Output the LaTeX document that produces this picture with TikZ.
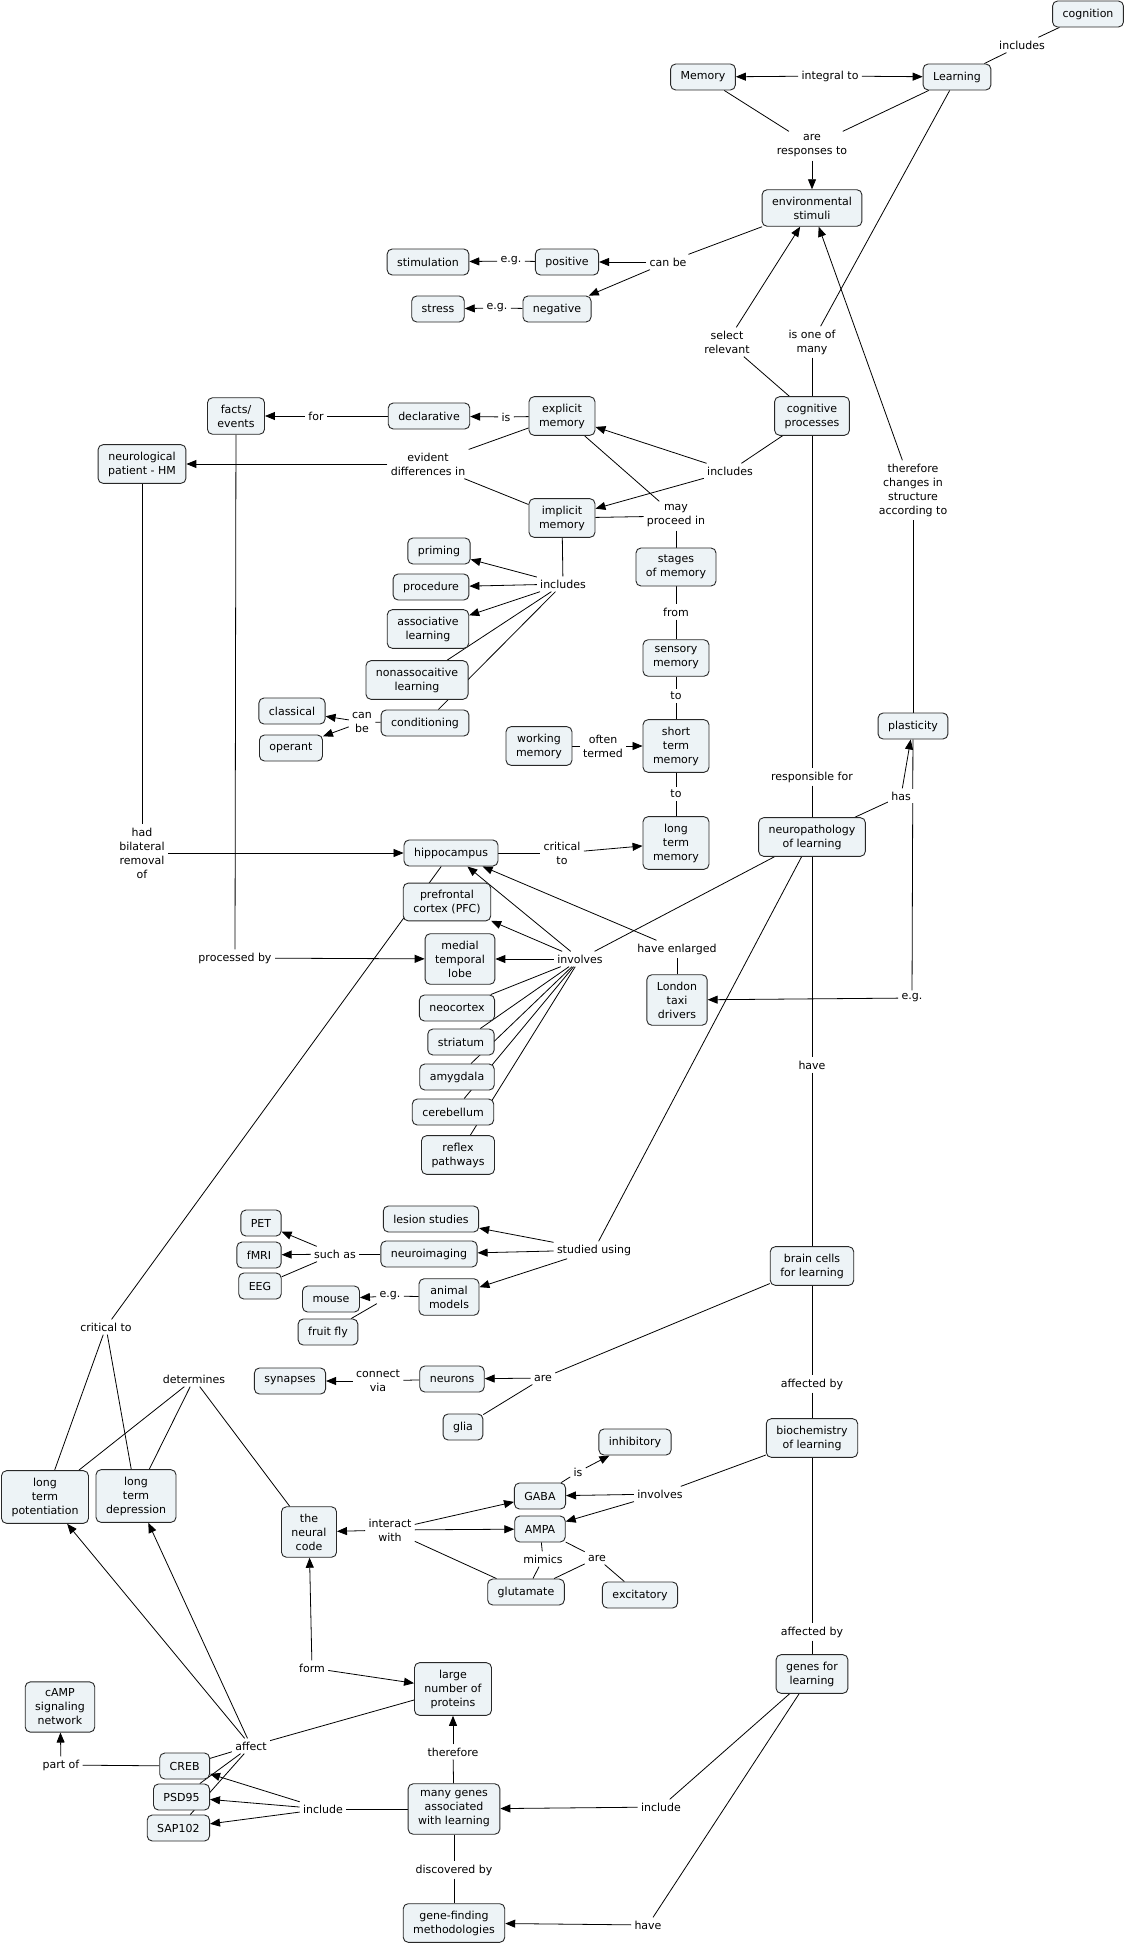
\documentclass[tikz,border=0pt]{standalone}
\usepackage{fontspec}
\setmainfont{DejaVu Sans}
\usepackage{tikz}
\usetikzlibrary{arrows.meta,backgrounds}
\usepackage{xcolor}
\definecolor{conceptfill}{RGB}{237,243,246}
\definecolor{conceptline}{RGB}{40,40,40}

\begin{document}
\begin{tikzpicture}[
				x=1pt, y=-1pt,
				concept/.style = {draw=conceptline, fill=conceptfill, line width=0.9pt, rounded corners=5pt,
					align=center, inner xsep=10pt, inner ysep=7pt, minimum height=26pt,
					font=\fontsize{11}{14}\selectfont},
				link/.style = {fill=white, align=center, inner sep=3pt, font=\fontsize{11}{14}\selectfont},
				arrow/.style={-{Triangle[length=10pt, width=8pt]}},
				every path/.style={line width=0.8pt}
				]
				
				\useasboundingbox (0,0) rectangle (1126,1948);
				
				\node[concept] (cog) at (1088,14) {cognition};
				\node[link] (incl1) at (1022,45) {includes};
				\node[concept] (mem) at (703,77) {Memory};
				\node[concept] (learn) at (957,77) {Learning};
				\node[link] (integral) at (830,76) {integral to};
				\node[link] (resp) at (812,146) {are\\responses to};
				\node[concept] (env) at (812,208) {environmental\\stimuli};
				\node[link] (canbe) at (668,262) {can be};
				\node[concept] (pos) at (567,262) {positive};
				\node[link] (eg1) at (511,261) {e.g.};
				\node[concept] (stim) at (428,262) {stimulation};
				\node[concept] (neg) at (557,309) {negative};
				\node[link] (eg2) at (497,308) {e.g.};
				\node[concept] (stress) at (438,309) {stress};
				\node[link] (select) at (727,342) {select\\relevant};
				\node[link] (oneof) at (812,342) {is one of\\many};
				\node[concept] (cogproc) at (812,416) {cognitive\\processes};
				\node[link] (changes) at (913,490) {therefore\\changes in\\structure\\according to};
				\node[concept] (expl) at (562,416) {explicit\\memory};
				\node[link] (isdecl) at (506,417) {is};
				\node[concept] (decl) at (429,416) {declarative};
				\node[link] (forlink) at (316,416) {for};
				\node[concept] (facts) at (236,416) {facts/\\events};
				\node[concept] (hm) at (142,464) {neurological\\patient - HM};
				\node[link] (evident) at (428,464) {evident\\differences in};
				\node[link] (incl2) at (730,471) {includes};
				\node[concept] (impl) at (562,518) {implicit\\memory};
				\node[link] (proceed) at (676,516) {may\\proceed in};
				\node[concept] (priming) at (439,551) {priming};
				\node[concept] (proced) at (431,587) {procedure};
				\node[link] (incl3) at (563,584) {includes};
				\node[concept] (stages) at (676,567) {stages\\of memory};
				\node[concept] (assoc) at (428,629) {associative\\learning};
				\node[link] (fromlink) at (676,612) {from};
				\node[concept] (sensory) at (676,658) {sensory\\memory};
				\node[concept] (nonassoc) at (417,680) {nonassocaitive\\learning};
				\node[concept] (cond) at (425,723) {conditioning};
				\node[concept] (classical) at (292,711) {classical};
				\node[link] (canbe2) at (362,722) {can\\be};
				\node[concept] (operant) at (291,748) {operant};
				\node[link] (to1) at (676,696) {to};
				\node[concept] (working) at (539,746) {working\\memory};
				\node[link] (termed) at (603,746) {often\\termed};
				\node[concept] (short) at (676,746) {short\\term\\memory};
				\node[concept] (plast) at (913,726) {plasticity};
				\node[link] (to2) at (676,794) {to};
				\node[link] (respfor) at (812,777) {responsible for};
				\node[link] (has) at (901,796) {has};
				\node[concept] (neuro) at (812,837) {neuropathology\\of learning};
				\node[concept] (longmem) at (676,843) {long\\term\\memory};
				\node[link] (crit1) at (562,853) {critical\\to};
				\node[concept] (hippo) at (451,853) {hippocampus};
				\node[link] (removal) at (142,853) {had\\bilateral\\removal\\of};
				\node[concept] (pfc) at (447,902) {prefrontal\\cortex (PFC)};
				\node[concept] (mtl) at (460,959) {medial\\temporal\\lobe};
				\node[link] (involves1) at (580,959) {involves};
				\node[link] (enlarged) at (677,949) {have enlarged};
				\node[concept] (london) at (677,1000) {London\\taxi\\drivers};
				\node[link] (eg3) at (912,998) {e.g.};
				\node[link] (procby) at (235,958) {processed by};
				\node[concept] (neocortex) at (457,1008) {neocortex};
				\node[link] (have1) at (812,1065) {have};
				\node[concept] (striatum) at (461,1042) {striatum};
				\node[concept] (amygdala) at (457,1077) {amygdala};
				\node[concept] (cerebellum) at (453,1112) {cerebellum};
				\node[concept] (reflex) at (458,1155) {reflex\\pathways};
				\node[concept] (lesion) at (431,1219) {lesion studies};
				\node[concept] (pet) at (261,1223) {PET};
				\node[concept] (imaging) at (429,1254) {neuroimaging};
				\node[concept] (fmri) at (259,1255) {fMRI};
				\node[link] (suchas) at (335,1254) {such as};
				\node[link] (studied) at (594,1250) {studied using};
				\node[concept] (cells) at (812,1266) {brain cells\\for learning};
				\node[concept] (eeg) at (260,1286) {EEG};
				\node[concept] (animal) at (449,1297) {animal\\models};
				\node[concept] (mouse) at (331,1299) {mouse};
				\node[link] (eg4) at (390,1296) {e.g.};
				\node[concept] (fly) at (328,1332) {fruit fly};
				\node[link] (crit2) at (106,1327) {critical to};
				\node[link] (determines) at (194,1379) {determines};
				\node[concept] (synapses) at (290,1381) {synapses};
				\node[link] (connect) at (378,1381) {connect\\via};
				\node[concept] (neurons) at (452,1379) {neurons};
				\node[link] (are1) at (543,1378) {are};
				\node[concept] (glia) at (463,1427) {glia};
				\node[link] (affby1) at (812,1384) {affected by};
				\node[concept] (inhib) at (635,1442) {inhibitory};
				\node[concept] (biochem) at (812,1438) {biochemistry\\of learning};
				\node[link] (is2) at (578,1472) {is};
				\node[concept] (gaba) at (540,1496) {GABA};
				\node[link] (involves2) at (660,1494) {involves};
				\node[concept] (ltp) at (45,1497) {long\\term\\potentiation};
				\node[concept] (ltd) at (136,1496) {long\\term\\depression};
				\node[concept] (code) at (309,1532) {the\\neural\\code};
				\node[link] (interact) at (390,1530) {interact\\with};
				\node[concept] (ampa) at (540,1529) {AMPA};
				\node[link] (mimics) at (543,1559) {mimics};
				\node[link] (are2) at (597,1558) {are};
				\node[concept] (glutamate) at (526,1592) {glutamate};
				\node[concept] (excit) at (640,1595) {excitatory};
				\node[link] (affby2) at (812,1632) {affected by};
				\node[concept] (genes) at (812,1674) {genes for\\learning};
				\node[link] (form) at (312,1668) {form};
				\node[concept] (proteins) at (453,1689) {large\\number of\\proteins};
				\node[concept] (camp) at (60,1707) {cAMP\\signaling\\network};
				\node[link] (affect) at (251,1746) {affect};
				\node[link] (therefore) at (453,1752) {therefore};
				\node[link] (partof) at (61,1765) {part of};
				\node[concept, anchor=east] (creb) at (210,1766) {CREB};
				\node[concept, anchor=east] (psd) at (210,1797) {PSD95};
				\node[link] (include1) at (323,1809) {include};
				\node[concept] (many) at (454,1809) {many genes\\associated\\with learning};
				\node[link] (include2) at (661,1807) {include};
				\node[concept, anchor=east] (sap) at (210,1828) {SAP102};
				\node[link] (discovered) at (454,1870) {discovered by};
				\node[concept] (finding) at (454,1923) {gene-finding\\methodologies};
				\node[link] (have2) at (648,1925) {have};
				
				\begin{pgfonlayer}{background}
				\fill[white] (0,0) rectangle (1126,1948);
				
				\draw (cog) -- (incl1);
				\draw (incl1) -- (learn);
				\draw[arrow] (integral) -- (mem);
				\draw[arrow] (integral) -- (learn);
				\draw (mem) -- (resp);
				\draw (learn) -- (resp);
				\draw[arrow] (resp) -- (env);
				\draw (env) -- (canbe);
				\draw[arrow] (canbe) -- (pos);
				\draw[arrow] (canbe) -- (neg);
				\draw (pos) -- (eg1);
				\draw[arrow] (eg1) -- (stim);
				\draw (neg) -- (eg2);
				\draw[arrow] (eg2) -- (stress);
				\draw (cogproc) -- (select);
				\draw[arrow] (select) -- (env);
				\draw (learn) -- (oneof);
				\draw (oneof) -- (cogproc);
				\draw (plast) -- (changes);
				\draw[arrow] (changes) -- (env);
				
				\draw (cogproc) -- (incl2);
				\draw[arrow] (incl2) -- (expl);
				\draw[arrow] (incl2) -- (impl);
				\draw (expl) -- (isdecl);
				\draw[arrow] (isdecl) -- (decl);
				\draw (decl) -- (forlink);
				\draw[arrow] (forlink) -- (facts);
				\draw (expl) -- (evident);
				\draw (impl) -- (evident);
				\draw[arrow] (evident) -- (hm);
				\draw (expl) -- (proceed);
				\draw (impl) -- (proceed);
				\draw (proceed) -- (stages);
				\draw (stages) -- (fromlink);
				\draw (fromlink) -- (sensory);
				\draw (sensory) -- (to1);
				\draw (to1) -- (short);
				\draw (short) -- (to2);
				\draw (to2) -- (longmem);
				\draw (working) -- (termed);
				\draw[arrow] (termed) -- (short);
				\draw (impl) -- (incl3);
				\draw[arrow] (incl3) -- (priming);
				\draw[arrow] (incl3) -- (proced);
				\draw[arrow] (incl3) -- (assoc);
				\draw (incl3) -- (nonassoc);
				\draw (incl3) -- (cond);
				\draw (cond) -- (canbe2);
				\draw[arrow] (canbe2) -- (classical);
				\draw[arrow] (canbe2) -- (operant);
				
				\draw (cogproc) -- (respfor);
				\draw (respfor) -- (neuro);
				\draw (neuro) -- (has);
				\draw[arrow] (has) -- (plast);
				\draw (plast) -- (eg3);
				\draw[arrow] (eg3) -- (london);
				\draw (hippo) -- (crit1);
				\draw[arrow] (crit1) -- (longmem);
				\draw (hm) -- (removal);
				\draw[arrow] (removal) -- (hippo);
				\draw (facts) -- (procby);
				\draw[arrow] (procby) -- (mtl);
				\draw (neuro) -- (involves1);
				\draw[arrow] (involves1) -- (hippo);
				\draw[arrow] (involves1) -- (pfc);
				\draw[arrow] (involves1) -- (mtl);
				\draw (involves1) -- (neocortex);
				\draw (involves1) -- (striatum);
				\draw (involves1) -- (amygdala);
				\draw (involves1) -- (cerebellum);
				\draw (involves1) -- (reflex);
				\draw (london) -- (enlarged);
				\draw[arrow] (enlarged) -- (hippo);
				
				\draw (neuro) -- (have1);
				\draw (have1) -- (cells);
				\draw (neuro) -- (studied);
				\draw[arrow] (studied) -- (lesion);
				\draw[arrow] (studied) -- (imaging);
				\draw[arrow] (studied) -- (animal);
				\draw (imaging) -- (suchas);
				\draw[arrow] (suchas) -- (pet);
				\draw[arrow] (suchas) -- (fmri);
				\draw (suchas) -- (eeg);
				\draw (animal) -- (eg4);
				\draw[arrow] (eg4) -- (mouse);
				\draw (eg4) -- (fly);
				\draw (hippo) -- (crit2);
				\draw (crit2) -- (ltp);
				\draw (crit2) -- (ltd);
				\draw (determines) -- (ltp);
				\draw (determines) -- (ltd);
				\draw (determines) -- (code);
				\draw (cells) -- (are1);
				\draw[arrow] (are1) -- (neurons);
				\draw (are1) -- (glia);
				\draw (neurons) -- (connect);
				\draw[arrow] (connect) -- (synapses);
				
				\draw (cells) -- (affby1);
				\draw (affby1) -- (biochem);
				\draw (biochem) -- (involves2);
				\draw[arrow] (involves2) -- (gaba);
				\draw[arrow] (involves2) -- (ampa);
				\draw (gaba) -- (is2);
				\draw[arrow] (is2) -- (inhib);
				\draw (ampa) -- (mimics);
				\draw (mimics) -- (glutamate);
				\draw (ampa) -- (are2);
				\draw (are2) -- (glutamate);
				\draw (are2) -- (excit);
				\draw[arrow] (interact) -- (code);
				\draw[arrow] (interact) -- (gaba);
				\draw[arrow] (interact) -- (ampa);
				\draw (interact) -- (glutamate);
				\draw[arrow] (form) -- (code);
				\draw[arrow] (form) -- (proteins);
				\draw (proteins) -- (affect);
				\draw[arrow] (affect) -- (ltp);
				\draw[arrow] (affect) -- (ltd);
				\draw (affect) -- (creb);
				\draw (affect) -- (psd);
				\draw (affect) -- (sap);
				\draw (many) -- (therefore);
				\draw[arrow] (therefore) -- (proteins);
				\draw (many) -- (include1);
				\draw[arrow] (include1) -- (creb);
				\draw[arrow] (include1) -- (psd);
				\draw[arrow] (include1) -- (sap);
				\draw (creb) -- (partof);
				\draw[arrow] (partof) -- (camp);
				\draw (biochem) -- (affby2);
				\draw (affby2) -- (genes);
				\draw (genes) -- (include2);
				\draw[arrow] (include2) -- (many);
				\draw (genes) -- (have2);
				\draw[arrow] (have2) -- (finding);
				\draw (many) -- (discovered);
				\draw (discovered) -- (finding);
				\end{pgfonlayer}
			\end{tikzpicture}
\end{document}
